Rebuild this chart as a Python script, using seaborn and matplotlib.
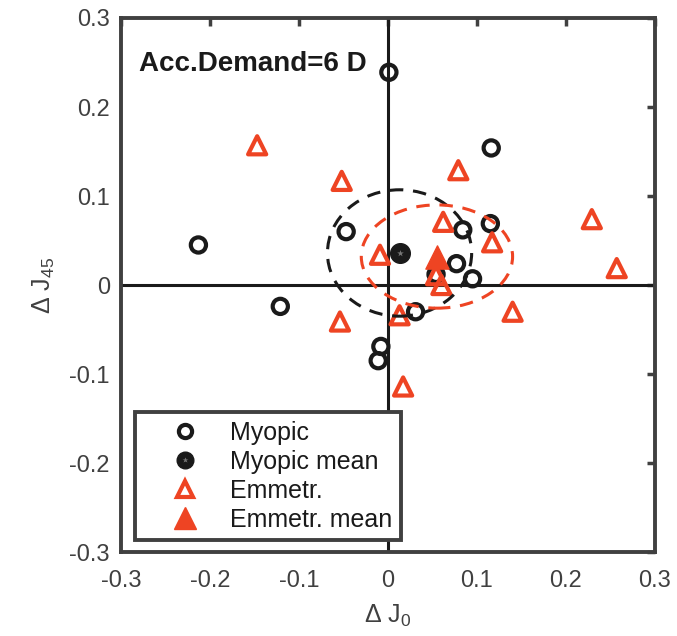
import numpy as np
import pandas as pd
import matplotlib
matplotlib.use("Agg")
import matplotlib.pyplot as plt
from matplotlib.patches import Ellipse
from matplotlib.lines import Line2D
import seaborn as sns

# Astigmatic change (J0, J45) for each subject, 6 D accommodative demand
myopic_j0 = [0.001, 0.116, -0.213, -0.121, -0.047, 0.084, 0.115, 0.077, 0.095, 0.054, 0.031, -0.008, -0.011]
myopic_j45 = [0.239, 0.154, 0.045, -0.024, 0.060, 0.062, 0.069, 0.024, 0.007, 0.012, -0.030, -0.069, -0.085]

emm_j0 = [-0.147, -0.052, 0.079, 0.062, 0.117, 0.229, 0.257, -0.009, 0.054, 0.060, 0.140, 0.013, -0.054, 0.017]
emm_j45 = [0.157, 0.117, 0.129, 0.071, 0.048, 0.074, 0.019, 0.034, 0.011, 0.000, -0.030, -0.034, -0.041, -0.114]

# group means
myopic_mean = [0.013, 0.036]
emm_mean = [0.055, 0.032]

# spread ellipses (semi-axes along J0 and J45)
myopic_radii = [0.081, 0.071]
emm_radii = [0.085, 0.058]

ticks = [-0.3, -0.2, -0.1, 0, 0.1, 0.2, 0.3]
tick_labels = ["-0.3", "-0.2", "-0.1", "0", "0.1", "0.2", "0.3"]

RED = "#EE4423"
BLK = "#1a1a1a"
GRAY = "#404040"

sns.set_style("white")
plt.rcParams["font.family"] = ["Liberation Sans", "DejaVu Sans"]
plt.rcParams["mathtext.fontset"] = "custom"
plt.rcParams["mathtext.rm"] = "Liberation Sans"
plt.rcParams["mathtext.it"] = "Liberation Sans"

fig = plt.figure(figsize=(6.77, 6.36), dpi=100)
ax = fig.add_axes([0.1787, 0.132, 0.7888, 0.8397])

ax.axhline(0, color=BLK, lw=2.2, zorder=1)
ax.axvline(0, color=BLK, lw=2.2, zorder=1)

df_m = pd.DataFrame({"J0": myopic_j0, "J45": myopic_j45})
df_e = pd.DataFrame({"J0": emm_j0, "J45": emm_j45})

sns.scatterplot(data=df_m, x="J0", y="J45", ax=ax, marker="o", s=120,
                facecolor="none", edgecolor=BLK, linewidth=3.0, zorder=3)
sns.scatterplot(data=df_e, x="J0", y="J45", ax=ax, marker="^", s=170,
                facecolor="none", edgecolor=RED, linewidth=3.0, zorder=3)

# mean markers
ax.scatter([myopic_mean[0]], [myopic_mean[1]], marker="o", s=200, color=BLK,
           edgecolor=BLK, zorder=5)
ax.scatter([myopic_mean[0]], [myopic_mean[1]], marker="*", s=25, color="#777777",
           linewidth=0, zorder=6)
ax.scatter([emm_mean[0]], [emm_mean[1]], marker="^", s=280, color=RED,
           edgecolor=RED, zorder=5)

# dashed spread ellipses
ax.add_patch(Ellipse(myopic_mean, 2 * myopic_radii[0], 2 * myopic_radii[1],
                     fill=False, ec=BLK, lw=2.2, ls=(0, (4.4, 3.2)), zorder=4))
ax.add_patch(Ellipse(emm_mean, 2 * emm_radii[0], 2 * emm_radii[1],
                     fill=False, ec=RED, lw=2.2, ls=(0, (4.4, 3.2)), zorder=4))

ax.set_xlim(-0.3, 0.3)
ax.set_ylim(-0.3, 0.3)
ax.set_xticks(ticks)
ax.set_xticklabels(tick_labels)
ax.set_yticks(ticks)
ax.set_yticklabels(tick_labels)
ax.tick_params(direction="in", length=6, width=2.5, color=GRAY, labelcolor=GRAY,
               labelsize=17, top=True, right=True)
ax.tick_params(axis="x", pad=13)
ax.tick_params(axis="y", pad=8)
for sp in ax.spines.values():
    sp.set_color(GRAY)
    sp.set_linewidth(2.8)

ax.set_xlabel(r"$\Delta$ J$_0$", fontsize=18, color=GRAY, labelpad=8)
ax.set_ylabel(r"$\Delta$ J$_{45}$", fontsize=18, color=GRAY, labelpad=9)

ax.text(0.033, 0.9, "Acc.Demand=6 D", transform=ax.transAxes, fontsize=20,
        fontweight="bold", color=BLK)

handles = [
    Line2D([], [], ls="none", marker="o", ms=9.5, mfc="none", mec=BLK, mew=3),
    (Line2D([], [], ls="none", marker="o", ms=12, mfc=BLK, mec=BLK),
     Line2D([], [], ls="none", marker="*", ms=4, mfc="#777777", mec="none")),
    Line2D([], [], ls="none", marker="^", ms=11, mfc="none", mec=RED, mew=3),
    Line2D([], [], ls="none", marker="^", ms=16, mfc=RED, mec=RED),
]
labels = ["Myopic", "Myopic mean", "Emmetr.", "Emmetr. mean"]
leg = ax.legend(handles, labels, loc="lower left", bbox_to_anchor=(0.026, 0.022),
                fontsize=18, frameon=True, fancybox=False, framealpha=1,
                edgecolor=GRAY, borderpad=0.35, labelspacing=0.2,
                handletextpad=0.15, handlelength=3.3, borderaxespad=0)
leg.get_frame().set_linewidth(2.8)
for t in leg.get_texts():
    t.set_color(BLK)

fig.savefig("out.png", dpi=100)
